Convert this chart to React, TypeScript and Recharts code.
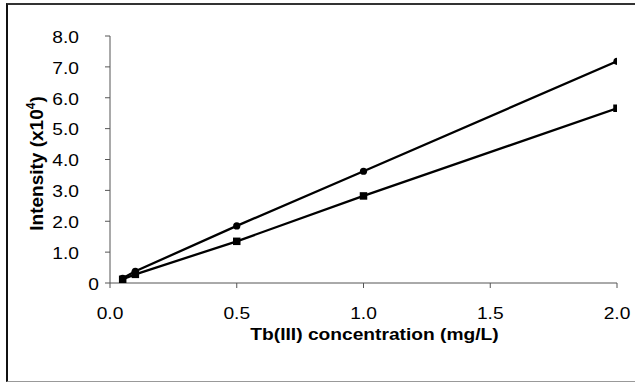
import React from "react";
import { LineChart, Line, XAxis, YAxis, Label } from "recharts";

const concentrationsA = [0.05, 0.1, 0.5, 1.0, 2.0];
const intensityA = [0.15, 0.38, 1.85, 3.62, 7.18];
const concentrationsB = [0.05, 0.1, 0.5, 1.0, 2.0];
const intensityB = [0.12, 0.28, 1.35, 2.82, 5.66];
const xTicks = [0, 0.5, 1.0, 1.5, 2.0];
const yTicks = [0, 1, 2, 3, 4, 5, 6, 7, 8];

const seriesA = concentrationsA.map((x, i) => ({ x, y: intensityA[i] }));
const seriesB = concentrationsB.map((x, i) => ({ x, y: intensityB[i] }));

const FONT = "'Liberation Sans', Arial, sans-serif";
const SX = 1.2;

const stretch = (x: number, s: number) => `translate(${x},0) scale(${s},1) translate(${-x},0)`;

const XTick = (props: any) => {
  const { x, y, payload } = props;
  return (
    <text
      x={x}
      y={y}
      dy={11.5}
      textAnchor="middle"
      transform={stretch(x, SX)}
      fontFamily={FONT}
      fontSize={16}
      fill="#000"
    >
      {Number(payload.value).toFixed(1)}
    </text>
  );
};

const YTick = (props: any) => {
  const { x, y, payload } = props;
  const v = Number(payload.value);
  const ax = v === 0 ? x + 20 : x;
  return (
    <text
      x={ax}
      y={y}
      dy={6.8}
      textAnchor="end"
      transform={stretch(ax, SX)}
      fontFamily={FONT}
      fontSize={16}
      fill="#000"
    >
      {v === 0 ? "0" : v.toFixed(1)}
    </text>
  );
};

const SquareDot = (props: any) => {
  const { cx, cy } = props;
  if (cx == null || cy == null) return null;
  return <rect x={cx - 3.75} y={cy - 3.75} width={7.5} height={7.5} fill="#000" />;
};

const CircleDot = (props: any) => {
  const { cx, cy } = props;
  if (cx == null || cy == null) return null;
  return <circle cx={cx} cy={cy} r={3.6} fill="#000" />;
};

const YTitle = (props: any) => {
  const vb = props.viewBox || {};
  const cx = 42.5;
  const cy = vb.y + vb.height / 2 + 4;
  return (
    <text
      x={cx}
      y={cy}
      transform={`rotate(-90, ${cx}, ${cy})`}
      textAnchor="middle"
      fontFamily={FONT}
      fontWeight="bold"
      fontSize={19}
      fill="#000"
    >
      Intensity (x10<tspan fontSize={12} dy={-8}>4</tspan><tspan dy={8}>)</tspan>
    </text>
  );
};

const XTitle = (props: any) => {
  const vb = props.viewBox || {};
  const cx = vb.x + vb.width / 2 + 11;
  return (
    <text
      x={cx}
      y={340}
      textAnchor="middle"
      transform={stretch(cx, 1.2)}
      fontFamily={FONT}
      fontWeight="bold"
      fontSize={16}
      fill="#000"
    >
      Tb(III) concentration (mg/L)
    </text>
  );
};

export default function App() {
  return (
    <div style={{ position: "absolute", left: 0, top: 0, width: 635, height: 382, background: "#fff", overflow: "hidden" }}>
      <div
        style={{
          position: "absolute",
          left: 6,
          top: 3,
          width: 660,
          height: 376,
          borderLeft: "2px solid #111",
          borderTop: "2px solid #333",
          borderBottom: "1px solid #999",
        }}
      />
      <div style={{ position: "absolute", left: 0, top: 0 }}>
        <LineChart
          width={635}
          height={382}
          margin={{ top: 36, right: 18, bottom: 39, left: 50 }}
        >
          <XAxis
            type="number"
            dataKey="x"
            domain={[0, 2]}
            ticks={xTicks}
            allowDataOverflow
            height={60}
            tickSize={5}
            tickMargin={20}
            axisLine={{ stroke: "#555", strokeWidth: 1 }}
            tickLine={{ stroke: "#555", strokeWidth: 1 }}
            tick={<XTick />}
          >
            <Label content={<XTitle />} />
          </XAxis>
          <YAxis
            type="number"
            dataKey="y"
            domain={[0, 8]}
            ticks={yTicks}
            width={60}
            tickSize={5}
            tickMargin={26}
            axisLine={{ stroke: "#555", strokeWidth: 1 }}
            tickLine={{ stroke: "#555", strokeWidth: 1 }}
            tick={<YTick />}
          >
            <Label content={<YTitle />} />
          </YAxis>
          <Line
            data={seriesB}
            dataKey="y"
            type="linear"
            stroke="#000"
            strokeWidth={2.3}
            dot={<SquareDot />}
            activeDot={false}
            isAnimationActive={false}
          />
          <Line
            data={seriesA}
            dataKey="y"
            type="linear"
            stroke="#000"
            strokeWidth={2.3}
            dot={<CircleDot />}
            activeDot={false}
            isAnimationActive={false}
          />
        </LineChart>
      </div>
    </div>
  );
}
